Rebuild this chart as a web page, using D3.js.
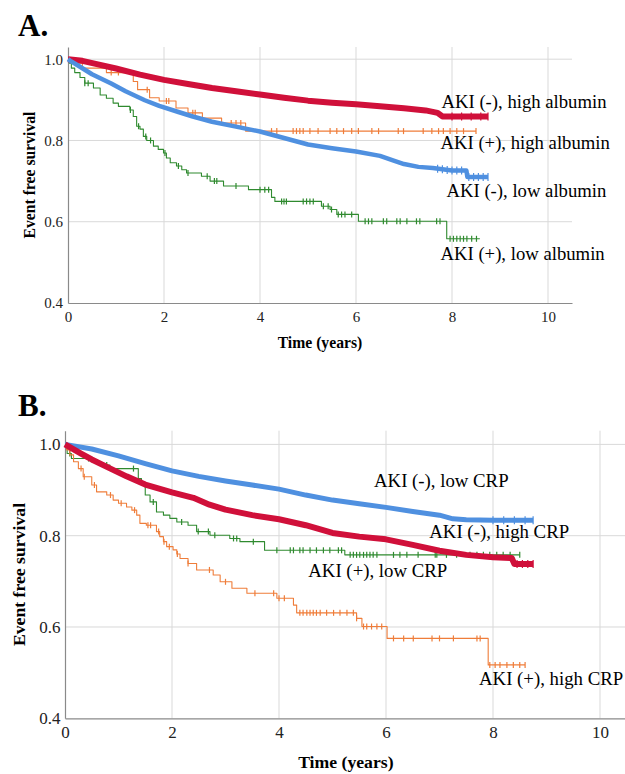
<!DOCTYPE html>
<html>
<head>
<meta charset="utf-8">
<script src="https://cdn.jsdelivr.net/npm/d3@7.9.0/dist/d3.min.js"></script>
<style>
  body { margin: 0; background: #fff; }
  svg { display: block; font-family: "Liberation Serif", "Times New Roman", serif; }
</style>
</head>
<body>
<svg id="chart" width="625" height="774"></svg>
<script>
// axis ticks shared by both panels
const xTicks = [0, 2, 4, 6, 8, 10];
const yTicks = [0.4, 0.6, 0.8, 1.0];

// ---------- Panel A: AKI x albumin ----------
// [time (years), event free survival]
const aNegHighAlb = [[0,1.0],[0.3,0.996],[0.6,0.988],[1,0.977],[1.5,0.962],[2,0.949],[2.5,0.939],[3,0.929],[3.5,0.921],[4,0.913],[4.5,0.905],[5,0.898],[5.5,0.893],[6,0.889],[6.5,0.884],[7,0.879],[7.45,0.874],[7.7,0.868],[7.8,0.859],[8.75,0.859]];
const aNegHighAlbCens = [8.0,8.2,8.4,8.6,8.75];

const aPosHighAlb = [[0,1.0],[0.1,0.99],[0.3,0.978],[0.8,0.967],[1.36,0.945],[1.45,0.925],[1.7,0.905],[1.9,0.897],[2.25,0.88],[2.5,0.868],[2.8,0.855],[3.2,0.843],[3.7,0.823],[8.5,0.823]];
const aPosHighAlbCens = [0.2,0.9,1.05,1.65,2.05,2.1,2.6,2.65,3.4,3.5,3.6,4.24,4.35,4.69,4.76,4.83,4.9,5.04,5.21,5.46,5.6,5.74,5.91,6.05,6.33,6.47,6.88,6.99,7.4,7.58,7.72,7.82,7.96,8.1,8.24,8.5];

const aNegLowAlb = [[0,1.0],[0.05,0.996],[0.2,0.985],[0.5,0.963],[0.9,0.94],[1.2,0.921],[1.6,0.899],[1.9,0.885],[2.3,0.87],[2.6,0.859],[3,0.846],[3.5,0.834],[4,0.822],[4.5,0.806],[5,0.79],[5.5,0.781],[6,0.773],[6.5,0.762],[6.8,0.75],[7,0.742],[7.3,0.735],[7.6,0.732],[8,0.726],[8.3,0.726],[8.32,0.71],[8.75,0.71]];
const aNegLowAlbCens = [7.7,7.8,7.9,8.0,8.1,8.2,8.35,8.45,8.55,8.65,8.75];

const aPosLowAlb = [[0,1.0],[0.03,0.99],[0.07,0.978],[0.14,0.967],[0.25,0.955],[0.35,0.941],[0.53,0.929],[0.67,0.912],[0.8,0.904],[0.94,0.892],[1.05,0.884],[1.29,0.875],[1.36,0.859],[1.43,0.835],[1.5,0.828],[1.57,0.81],[1.64,0.8],[1.78,0.786],[1.88,0.778],[1.99,0.769],[2.05,0.757],[2.13,0.745],[2.26,0.737],[2.37,0.728],[2.47,0.72],[2.78,0.712],[2.96,0.7],[3.24,0.688],[3.76,0.679],[4.24,0.66],[4.31,0.65],[5.28,0.638],[5.46,0.63],[5.6,0.618],[6.05,0.601],[7.89,0.558],[8.58,0.558]];
const aPosLowAlbCens = [0.35,0.42,1.3,1.47,1.62,1.72,2.02,2.3,2.5,2.9,3.05,3.1,3.5,4.0,4.1,4.18,4.45,4.5,4.55,4.9,4.97,5.04,5.11,5.32,5.42,5.49,5.63,5.7,5.77,5.91,6.19,6.26,6.33,6.57,6.64,6.85,6.92,7.06,7.26,7.33,7.68,7.75,7.96,8.03,8.1,8.17,8.24,8.31,8.41,8.51];

// ---------- Panel B: AKI x CRP ----------
const bNegLowCrp = [[0,1.0],[0.5,0.99],[1,0.975],[1.5,0.958],[2,0.942],[2.5,0.93],[3,0.92],[3.5,0.911],[4,0.902],[4.5,0.889],[5,0.878],[5.5,0.87],[6,0.862],[6.5,0.853],[7,0.845],[7.25,0.837],[7.5,0.835],[8,0.834],[8.75,0.834]];
const bNegLowCrpCens = [8.0,8.2,8.4,8.6,8.75];

const bNegHighCrp = [[0,1.0],[0.3,0.98],[0.5,0.967],[0.85,0.947],[1.15,0.93],[1.5,0.912],[2,0.895],[2.4,0.883],[2.7,0.868],[3,0.857],[3.5,0.845],[4,0.836],[4.5,0.823],[5,0.806],[5.5,0.798],[6,0.792],[6.5,0.78],[7,0.767],[7.5,0.758],[8,0.753],[8.35,0.751],[8.4,0.738],[8.75,0.738]];
const bNegHighCrpCens = [8.45,8.55,8.65,8.75];

const bPosLowCrp = [[0,1.0],[0.04,0.98],[0.12,0.969],[0.5,0.962],[0.65,0.955],[0.84,0.947],[1.37,0.925],[1.43,0.911],[1.5,0.889],[1.59,0.874],[1.71,0.852],[1.84,0.845],[1.96,0.838],[2.09,0.83],[2.3,0.823],[2.46,0.809],[2.71,0.801],[3.08,0.794],[3.27,0.787],[3.73,0.768],[5.23,0.758],[8.5,0.758]];
const bPosLowCrpCens = [0.09,0.44,0.78,1.28,1.65,2.18,2.49,2.68,2.8,3.15,3.21,3.52,3.96,4.21,4.27,4.39,4.45,4.58,4.7,4.83,4.95,5.11,5.17,5.33,5.39,5.45,5.51,5.58,5.64,5.7,5.76,5.83,6.14,6.26,6.39,6.6,6.92,6.95,7.13,7.32,7.57,7.7,7.82,7.94,8.07,8.19,8.32,8.5];

const bPosHighCrp = [[0,1.0],[0.03,0.988],[0.09,0.977],[0.16,0.962],[0.25,0.947],[0.34,0.929],[0.5,0.911],[0.59,0.896],[0.78,0.889],[0.9,0.878],[1.0,0.871],[1.15,0.863],[1.25,0.856],[1.34,0.845],[1.4,0.827],[1.52,0.823],[1.71,0.809],[1.77,0.798],[1.84,0.787],[1.9,0.776],[2.02,0.769],[2.09,0.76],[2.15,0.75],[2.3,0.739],[2.46,0.725],[2.77,0.714],[2.9,0.699],[3.12,0.685],[3.4,0.674],[3.96,0.663],[4.27,0.648],[4.33,0.631],[5.45,0.619],[5.55,0.601],[6.02,0.575],[7.91,0.517],[8.6,0.517]];
const bPosHighCrpCens = [0.3,0.36,0.55,0.85,1.05,1.3,1.55,1.6,1.75,1.85,1.95,2.1,2.3,2.7,3.0,3.55,3.9,4.0,4.1,4.39,4.45,4.52,4.58,4.64,4.7,4.77,4.89,5.02,5.14,5.27,5.39,5.45,5.58,5.64,5.73,5.83,5.92,6.14,6.33,6.51,6.86,7.0,7.26,7.7,7.76,7.94,8.04,8.13,8.26,8.38,8.5,8.6];

const RED = '#d0103a', BLUE = '#4f90e0', ORANGE = '#ef7d3a', GREEN = '#2f8a2f';

const panels = [
  {
    tag: 'A.', tagX: 18, tagY: 36, tagSize: 31,
    left: 68, right: 572, top: 47, bottom: 303,
    tickFont: 15, xPad: 8, yPad: 5,
    titleFont: 15.7, xTitleY: 348, yTitleX: 35,
    labelFont: 18.7,
    series: [
      { pts: aNegHighAlb, cens: aNegHighAlbCens, color: RED, width: 6, dense: true },
      { pts: aNegLowAlb, cens: aNegLowAlbCens, color: BLUE, width: 4.5, dense: true },
      { pts: aPosHighAlb, cens: aPosHighAlbCens, color: ORANGE, width: 1.1 },
      { pts: aPosLowAlb, cens: aPosLowAlbCens, color: GREEN, width: 1.1 },
    ],
    labels: [
      { text: 'AKI (-), high albumin', x: 441.5, y: 108 },
      { text: 'AKI (+), high albumin', x: 440.5, y: 149 },
      { text: 'AKI (-), low albumin', x: 446.5, y: 196.5 },
      { text: 'AKI (+), low albumin', x: 440.5, y: 260 },
    ],
  },
  {
    tag: 'B.', tagX: 18, tagY: 416, tagSize: 31,
    left: 65, right: 626.75, top: 430.7, bottom: 718.3,
    tickFont: 17, xPad: 7.6, yPad: 4.5,
    titleFont: 17.7, xTitleY: 768, yTitleX: 25,
    labelFont: 18.8,
    series: [
      { pts: bNegLowCrp, cens: bNegLowCrpCens, color: BLUE, width: 5, dense: true },
      { pts: bNegHighCrp, cens: bNegHighCrpCens, color: RED, width: 6, dense: true },
      { pts: bPosLowCrp, cens: bPosLowCrpCens, color: GREEN, width: 1.1 },
      { pts: bPosHighCrp, cens: bPosHighCrpCens, color: ORANGE, width: 1.1 },
    ],
    labels: [
      { text: 'AKI (-), low CRP', x: 374, y: 486.5 },
      { text: 'AKI (-), high CRP', x: 429.3, y: 538 },
      { text: 'AKI (+), low CRP', x: 308.3, y: 576.5 },
      { text: 'AKI (+), high CRP', x: 479, y: 685 },
    ],
  },
];

const svg = d3.select('#chart');
const serif = '"Liberation Serif", "Times New Roman", serif';

// survival at time t: step lookup, or linear for the dense curves
function survAt(pts, t, dense) {
  let i = d3.bisector(d => d[0]).right(pts, t) - 1;
  i = Math.max(0, Math.min(i, pts.length - 1));
  if (!dense || i >= pts.length - 1) return pts[i][1];
  const [t0, s0] = pts[i], [t1, s1] = pts[i + 1];
  return s0 + (s1 - s0) * (t - t0) / (t1 - t0);
}

function drawPanel(p) {
  const x = d3.scaleLinear().domain([0, 10.5]).range([p.left, p.right]);
  const y = d3.scaleLinear().domain([0.4, 1.03]).range([p.bottom, p.top]);
  const g = svg.append('g');

  // gridlines
  g.append('g').selectAll('line')
    .data(xTicks.filter(d => d > 0))
    .join('line')
    .attr('x1', d => x(d)).attr('x2', d => x(d))
    .attr('y1', p.top).attr('y2', p.bottom)
    .attr('stroke', '#d9d9d9').attr('stroke-width', 1);
  g.append('g').selectAll('line')
    .data(yTicks.filter(d => d > 0.4))
    .join('line')
    .attr('x1', p.left).attr('x2', p.right)
    .attr('y1', d => y(d)).attr('y2', d => y(d))
    .attr('stroke', '#d9d9d9').attr('stroke-width', 1);

  // axes
  const xa = g.append('g')
    .attr('transform', `translate(0,${p.bottom})`)
    .call(d3.axisBottom(x).tickValues(xTicks).tickSize(0).tickPadding(p.xPad).tickFormat(d3.format('d')));
  const ya = g.append('g')
    .attr('transform', `translate(${p.left},0)`)
    .call(d3.axisLeft(y).tickValues(yTicks).tickSize(0).tickPadding(p.yPad).tickFormat(d3.format('.1f')));
  [xa, ya].forEach(a => {
    a.attr('font-family', serif).attr('font-size', p.tickFont);
    a.select('.domain').attr('stroke', '#8a8a8a').attr('stroke-width', 1.2);
    a.selectAll('text').attr('fill', '#222');
  });

  // curves
  const lineStep = d3.line().x(d => x(d[0])).y(d => y(d[1])).curve(d3.curveStepAfter);
  const lineDense = d3.line().x(d => x(d[0])).y(d => y(d[1]));

  // thin curves first, dense ones on top (as in the original)
  const order = p.series.slice().sort((a, b) => (a.dense ? 1 : 0) - (b.dense ? 1 : 0));
  order.forEach(s => {
    g.append('path')
      .datum(s.pts)
      .attr('d', s.dense ? lineDense : lineStep)
      .attr('fill', 'none')
      .attr('stroke', s.color)
      .attr('stroke-width', s.width)
      .attr('stroke-linejoin', 'round');
    const h = s.dense ? 4 : 3;
    g.append('g').selectAll('line')
      .data(s.cens)
      .join('line')
      .attr('x1', d => x(d)).attr('x2', d => x(d))
      .attr('y1', d => y(survAt(s.pts, d, s.dense)) - h)
      .attr('y2', d => y(survAt(s.pts, d, s.dense)) + h)
      .attr('stroke', s.color)
      .attr('stroke-width', 1.2);
  });

  // curve labels
  g.append('g').selectAll('text')
    .data(p.labels)
    .join('text')
    .attr('x', d => d.x).attr('y', d => d.y)
    .attr('font-size', p.labelFont)
    .attr('fill', '#000')
    .text(d => d.text);

  // axis titles
  g.append('text')
    .attr('x', (p.left + p.right) / 2).attr('y', p.xTitleY)
    .attr('text-anchor', 'middle')
    .attr('font-weight', 'bold').attr('font-size', p.titleFont)
    .text('Time (years)');
  g.append('text')
    .attr('transform', `translate(${p.yTitleX},${(p.top + p.bottom) / 2}) rotate(-90)`)
    .attr('text-anchor', 'middle')
    .attr('font-weight', 'bold').attr('font-size', p.titleFont)
    .text('Event free survival');

  // panel tag
  g.append('text')
    .attr('x', p.tagX).attr('y', p.tagY)
    .attr('font-weight', 'bold').attr('font-size', p.tagSize)
    .text(p.tag);
}

panels.forEach(drawPanel);
</script>
</body>
</html>
